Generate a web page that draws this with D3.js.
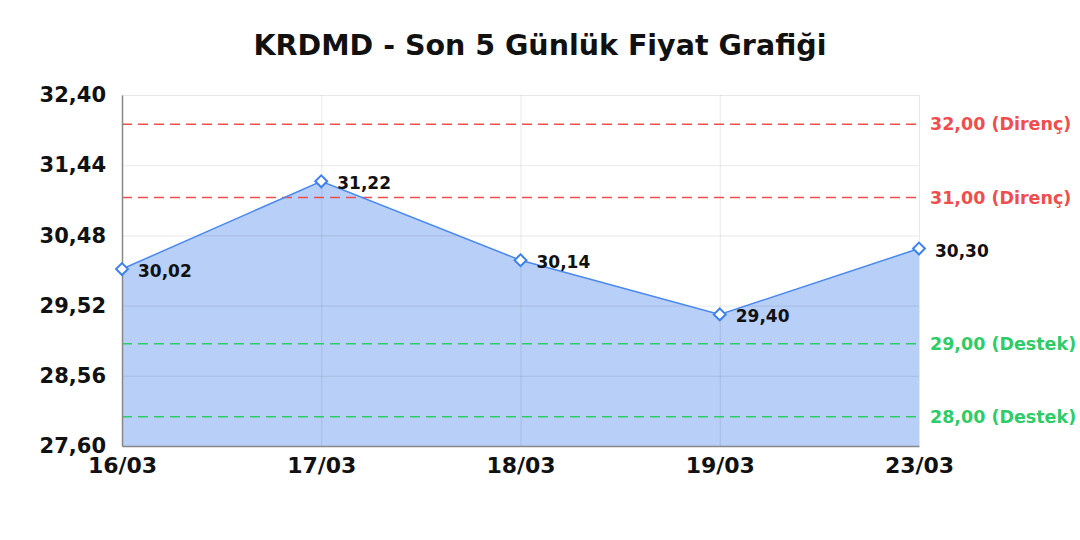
<!DOCTYPE html>
<html>
<head>
<meta charset="utf-8">
<script src="https://cdn.jsdelivr.net/npm/d3@7"></script>
<style>
  body { margin: 0; background: #fff; }
  svg { font-family: "DejaVu Sans", sans-serif; }
</style>
</head>
<body>
<svg width="1080" height="540"></svg>
<script>
const width = 1080;
const height = 540;
const margin = {top: 95, right: 161, bottom: 94, left: 122};

// data
const dates = ["16/03", "17/03", "18/03", "19/03", "23/03"];
const prices = [30.02, 31.22, 30.14, 29.40, 30.30];
const yTicks = [27.60, 28.56, 29.52, 30.48, 31.44, 32.40];
const resistance = [32.00, 31.00];
const support = [29.00, 28.00];

const fmt = v => d3.format(".2f")(v).replace(".", ",");

let svg = d3.select("svg");

//scales
let xScale = d3.scalePoint()
            .domain(dates)
            .range([margin.left, width - margin.right]);
let yScale = d3.scaleLinear()
            .domain([27.60, 32.40])
            .range([height - margin.bottom, margin.top]);

//title
svg.append("text")
    .attr("x", width / 2)
    .attr("y", 55)
    .attr("text-anchor", "middle")
    .attr("fill", "#111")
    .style("font-size", "28.5px")
    .style("font-weight", "bold")
    .text("KRDMD - Son 5 Günlük Fiyat Grafiği");

//area + line
let data = dates.map((d, i) => ({date: d, price: prices[i]}));
let area = d3.area()
            .x(d => xScale(d.date))
            .y0(yScale(27.60))
            .y1(d => yScale(d.price));
svg.append("path")
    .datum(data)
    .attr("d", area)
    .attr("fill", "#b8cff8");

//grid (drawn over the fill, as in the reference)
let yGrid = d3.axisLeft(yScale)
            .tickValues(yTicks)
            .tickSize(-(width - margin.left - margin.right))
            .tickFormat("");
svg.append("g")
    .attr("transform", `translate(${margin.left}, 0)`)
    .call(yGrid)
    .call(g => g.select(".domain").remove())
    .call(g => g.selectAll("line").attr("stroke", "#000").attr("stroke-opacity", 0.09));
let xGrid = d3.axisBottom(xScale)
            .tickSize(-(height - margin.top - margin.bottom))
            .tickFormat("");
svg.append("g")
    .attr("transform", `translate(0, ${height - margin.bottom})`)
    .call(xGrid)
    .call(g => g.select(".domain").remove())
    .call(g => g.selectAll("line").attr("stroke", "#000").attr("stroke-opacity", 0.09));

//reference lines
let refs = resistance.map(v => ({v: v, label: fmt(v) + " (Direnç)", color: "#f04e4e"}))
    .concat(support.map(v => ({v: v, label: fmt(v) + " (Destek)", color: "#2ecc66"})));
svg.selectAll(".ref")
    .data(refs)
    .enter()
    .append("line")
        .attr("x1", margin.left)
        .attr("x2", width - margin.right)
        .attr("y1", d => yScale(d.v))
        .attr("y2", d => yScale(d.v))
        .attr("stroke", d => d.color)
        .attr("stroke-width", 1.5)
        .attr("stroke-dasharray", "10,6");
svg.selectAll(".reflabel")
    .data(refs)
    .enter()
    .append("text")
        .attr("x", width - margin.right + 11)
        .attr("y", d => yScale(d.v))
        .attr("dy", "0.35em")
        .attr("fill", d => d.color)
        .style("font-size", "17.5px")
        .style("font-weight", "bold")
        .text(d => d.label);

//price line
let line = d3.line()
            .x(d => xScale(d.date))
            .y(d => yScale(d.price));
svg.append("path")
    .datum(data)
    .attr("d", line)
    .attr("fill", "none")
    .attr("stroke", "#4a88f0")
    .attr("stroke-width", 1.5);

//axes
let yAxis = d3.axisLeft(yScale)
            .tickValues(yTicks)
            .tickSize(0)
            .tickPadding(16)
            .tickFormat(fmt);
svg.append("g")
    .attr("transform", `translate(${margin.left}, 0)`)
    .call(yAxis)
    .call(g => g.select(".domain").attr("stroke", "#888").attr("stroke-width", 1.5))
    .call(g => g.selectAll("text")
        .attr("fill", "#111")
        .style("font-size", "21px")
        .style("font-weight", "bold")
        .style("font-family", "DejaVu Sans"));
let xAxis = d3.axisBottom(xScale)
            .tickSize(0)
            .tickPadding(11)
            .tickSizeOuter(0);
svg.append("g")
    .attr("transform", `translate(0, ${height - margin.bottom})`)
    .call(xAxis)
    .call(g => g.select(".domain").attr("stroke", "#888").attr("stroke-width", 1.5))
    .call(g => g.selectAll("text")
        .attr("fill", "#111")
        .style("font-size", "22px")
        .style("font-weight", "bold")
        .style("font-family", "DejaVu Sans"));

//markers
svg.selectAll(".marker")
    .data(data)
    .enter()
    .append("path")
        .attr("d", d3.symbol(d3.symbolDiamond2, 90))
        .attr("transform", d => `translate(${xScale(d.date)}, ${yScale(d.price)})`)
        .attr("fill", "#fff")
        .attr("stroke", "#3d80f0")
        .attr("stroke-width", 2);

//value labels
svg.selectAll(".val")
    .data(data)
    .enter()
    .append("text")
        .attr("x", d => xScale(d.date) + 16)
        .attr("y", d => yScale(d.price) + 2)
        .attr("dy", "0.35em")
        .attr("fill", "#111")
        .style("font-size", "17px")
        .style("font-weight", "bold")
        .text(d => fmt(d.price));
</script>
</body>
</html>
